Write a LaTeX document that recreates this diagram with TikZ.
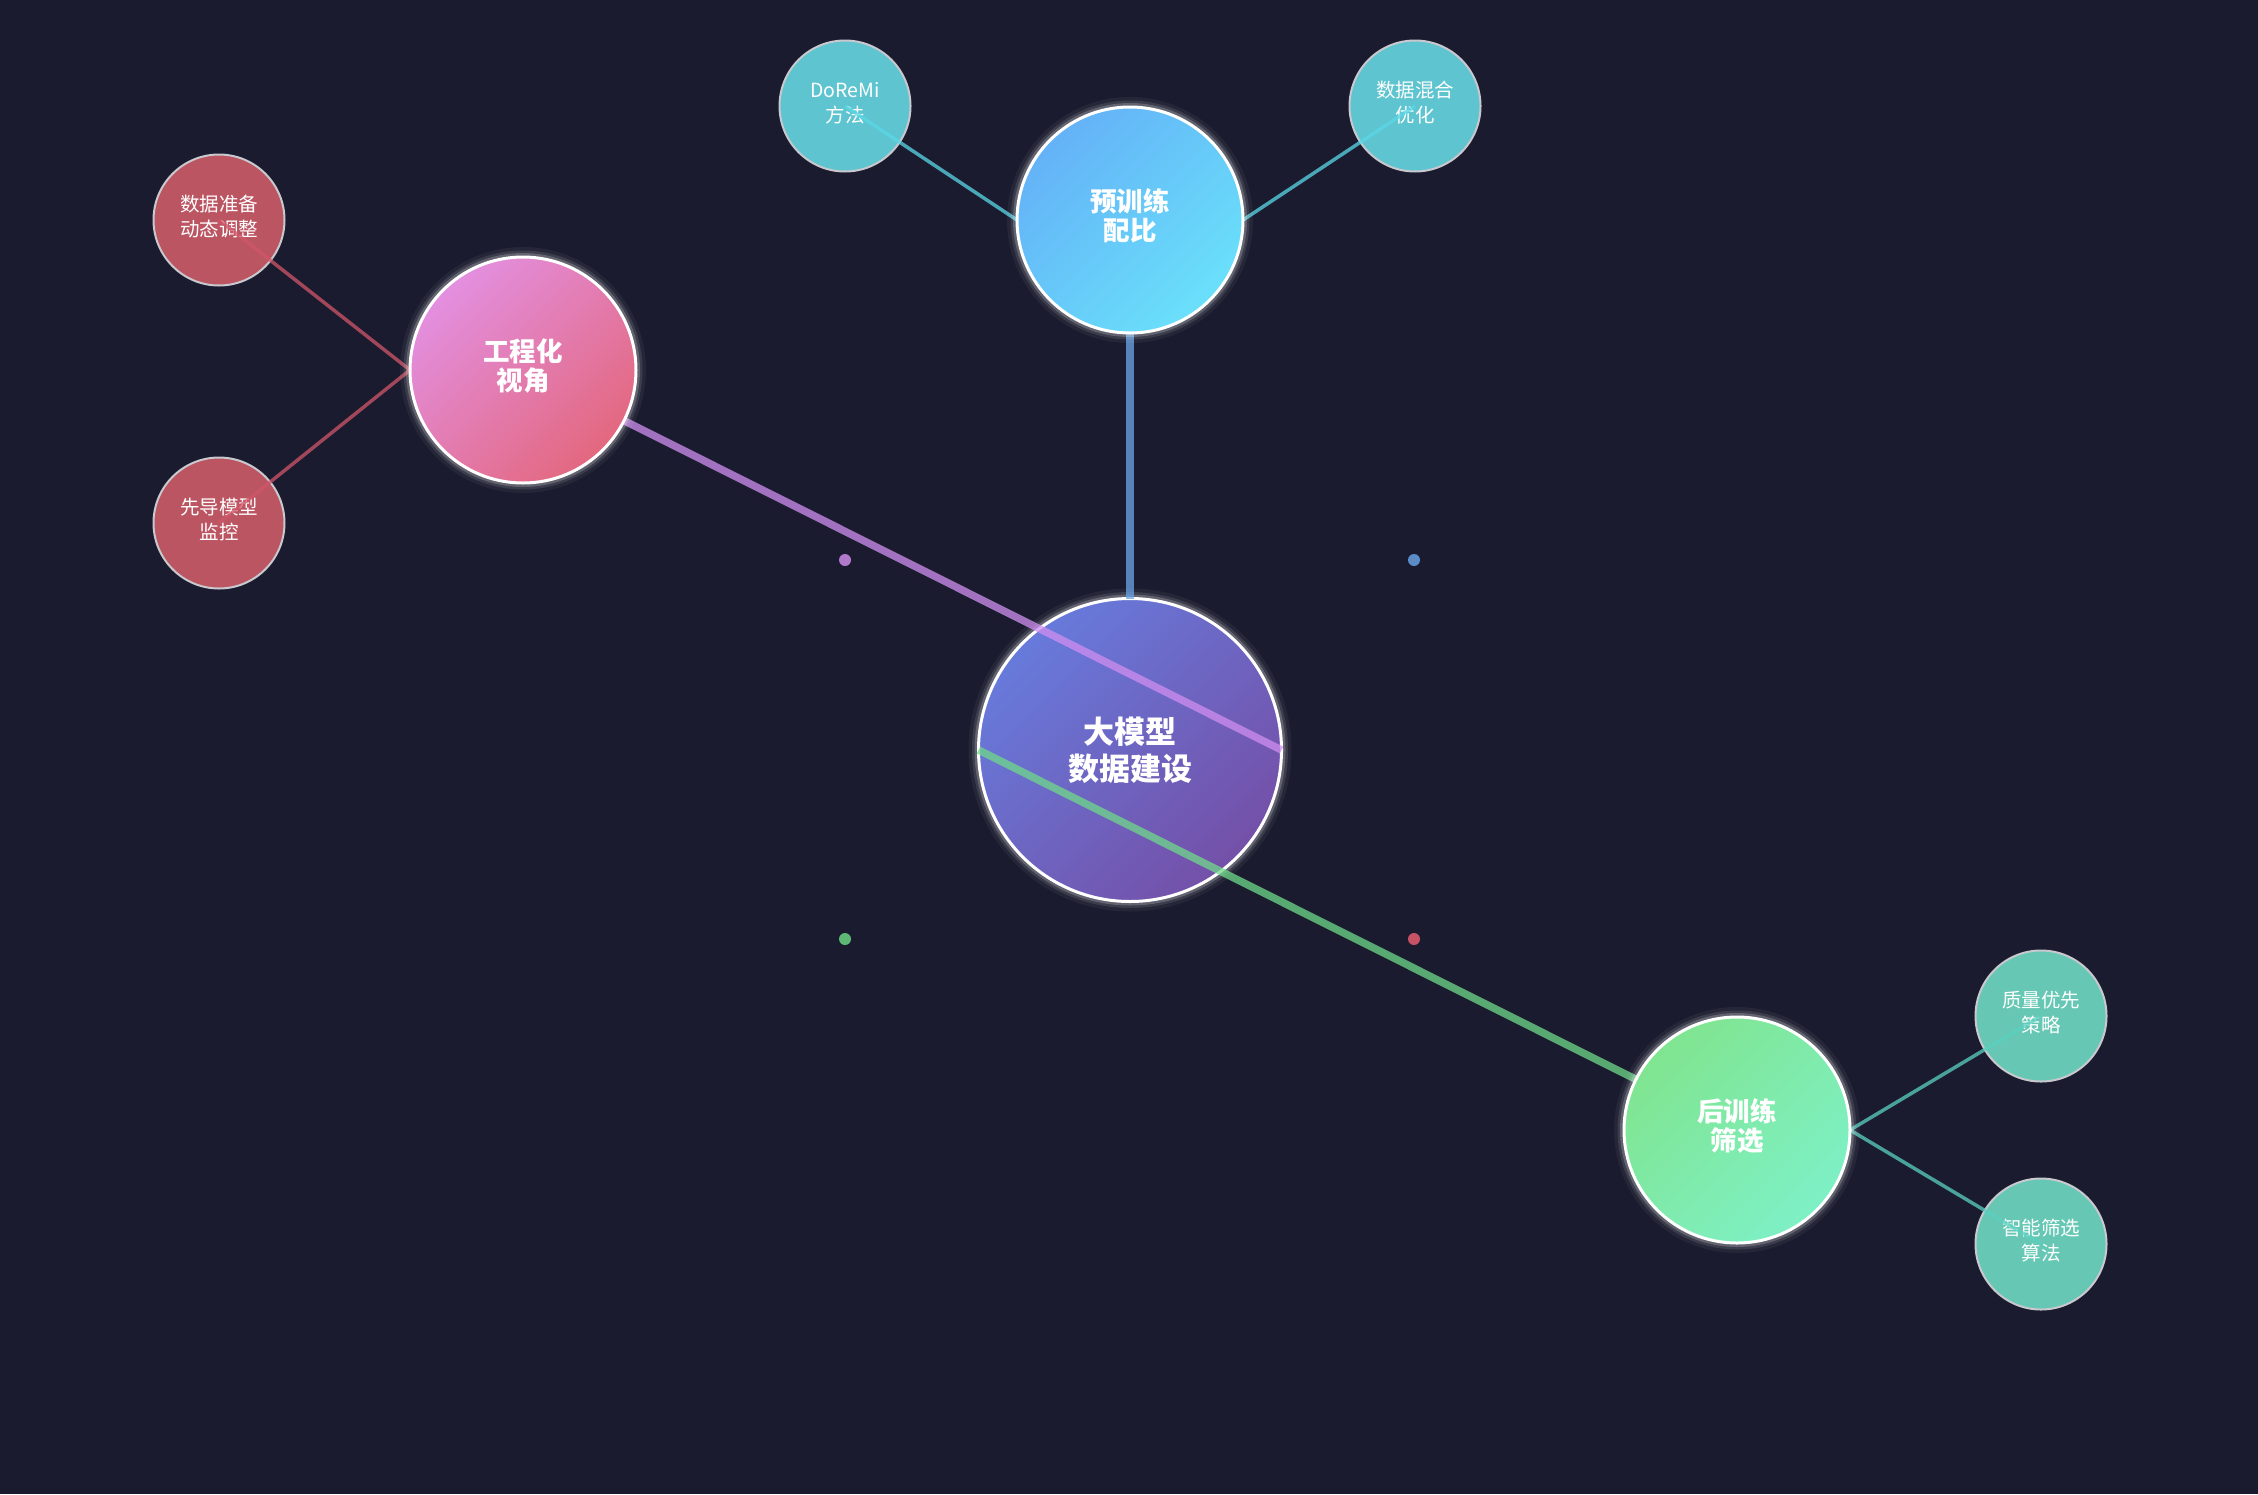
\documentclass[tikz,border=0pt]{standalone}
\usepackage{fontspec}
\setmainfont{Noto Sans CJK SC}
\usepackage{tikz}

\definecolor{bgdark}{HTML}{1A1B2E}
\definecolor{leafrim}{HTML}{C8C8CE}
\definecolor{leafcyan}{HTML}{5EC4D0}
\definecolor{leafred}{HTML}{BC5562}
\definecolor{leafmint}{HTML}{66C8B4}
\definecolor{linepurple}{HTML}{D08EF0}
\definecolor{linegreen}{HTML}{6FD98A}
\definecolor{lineblue}{HTML}{6AA6EA}
\definecolor{linecyan}{HTML}{5AD7E6}
\definecolor{linered}{HTML}{D0566A}
\definecolor{linemint}{HTML}{5AD0C0}

\pgfdeclarelayer{bg}
\pgfdeclarelayer{low}
\pgfdeclarelayer{edges}
\pgfsetlayers{bg,low,edges,main}

\begin{document}
\begin{tikzpicture}[x=1pt,y=-1pt,
    glow/.style={circle,draw=white,line width=3pt,inner sep=0pt,outer sep=0pt,
        text=white,align=center,shading angle=45,
        preaction={draw=white,line width=20pt,draw opacity=.05},
        preaction={draw=white,line width=13pt,draw opacity=.1},
        preaction={draw=white,line width=8pt,draw opacity=.2}},
    core/.style={glow,minimum size=303pt,font=\fontsize{31}{37}\selectfont\bfseries},
    hub/.style={glow,minimum size=226pt,font=\fontsize{26.5}{29}\selectfont\bfseries,
        execute at end node=\rule[-11pt]{0pt}{0pt}},
    leaf/.style={circle,draw=leafrim,line width=2pt,inner sep=0pt,outer sep=0pt,
        minimum size=131pt,text=white,align=center,font=\fontsize{19.5}{25}\selectfont,
        execute at end node=\rule[-8pt]{0pt}{0pt}},
    trunk/.style={line width=7.5pt,draw opacity=.75},
    twig/.style={line width=3.5pt,draw opacity=.75}]
                \begin{pgfonlayer}{bg}
                \fill [bgdark] (0,0) rectangle (2258,1494);
                \fill [linepurple!85!black] (845,560) circle [radius=6];
                \fill [lineblue!85!black] (1414,560) circle [radius=6];
                \fill [linegreen!85!black] (845,939) circle [radius=6];
                \fill [linered!95!black] (1414,939) circle [radius=6];
                \end{pgfonlayer}
                \begin{pgfonlayer}{low}
                \node [core,top color={rgb,255:red,103;green,122;blue,219},bottom color={rgb,255:red,116;green,80;blue,168},shading angle=45] (core) at (1130,750) {大模型\\数据建设};
                \node [leaf,fill=leafcyan] (doremi) at (845,106) {DoReMi\\方法};
                \node [leaf,fill=leafcyan] (mixopt) at (1415,106) {数据混合\\优化};
                \node [leaf,fill=leafred] (dataprep) at (219,220) {数据准备\\动态调整};
                \node [leaf,fill=leafred] (pilot) at (219,523) {先导模型\\监控};
                \node [leaf,fill=leafmint] (quality) at (2041,1016) {质量优先\\策略};
                \node [leaf,fill=leafmint] (smart) at (2041,1244) {智能筛选\\算法};
                \end{pgfonlayer}
                \node [hub,top color={rgb,255:red,100;green,178;blue,247},bottom color={rgb,255:red,106;green,224;blue,250},shading angle=45] (pre) at (1130,220) {预训练\\配比};
                \node [hub,top color={rgb,255:red,227;green,143;blue,224},bottom color={rgb,255:red,227;green,104;blue,127},shading angle=45] (eng) at (523,370) {工程化\\视角};
                \node [hub,top color={rgb,255:red,128;green,229;blue,144},bottom color={rgb,255:red,126;green,240;blue,198},shading angle=45] (post) at (1737,1130) {后训练\\筛选};
                \begin{pgfonlayer}{edges}
                \draw [trunk,draw=lineblue] (pre.center) -- (core.north);
                \draw [trunk,draw=linepurple] (eng.center) -- (core.east);
                \draw [trunk,draw=linegreen] (core.west) -- (post.center);
                \draw [twig,draw=linecyan] (pre.west) -- (doremi.center);
                \draw [twig,draw=linecyan] (pre.east) -- (mixopt.center);
                \draw [twig,draw=linered] (eng.west) -- (dataprep.center);
                \draw [twig,draw=linered] (eng.west) -- (pilot.center);
                \draw [twig,draw=linemint] (post.east) -- (quality.center);
                \draw [twig,draw=linemint] (post.east) -- (smart.center);
                \end{pgfonlayer}
            \end{tikzpicture}
\end{document}
